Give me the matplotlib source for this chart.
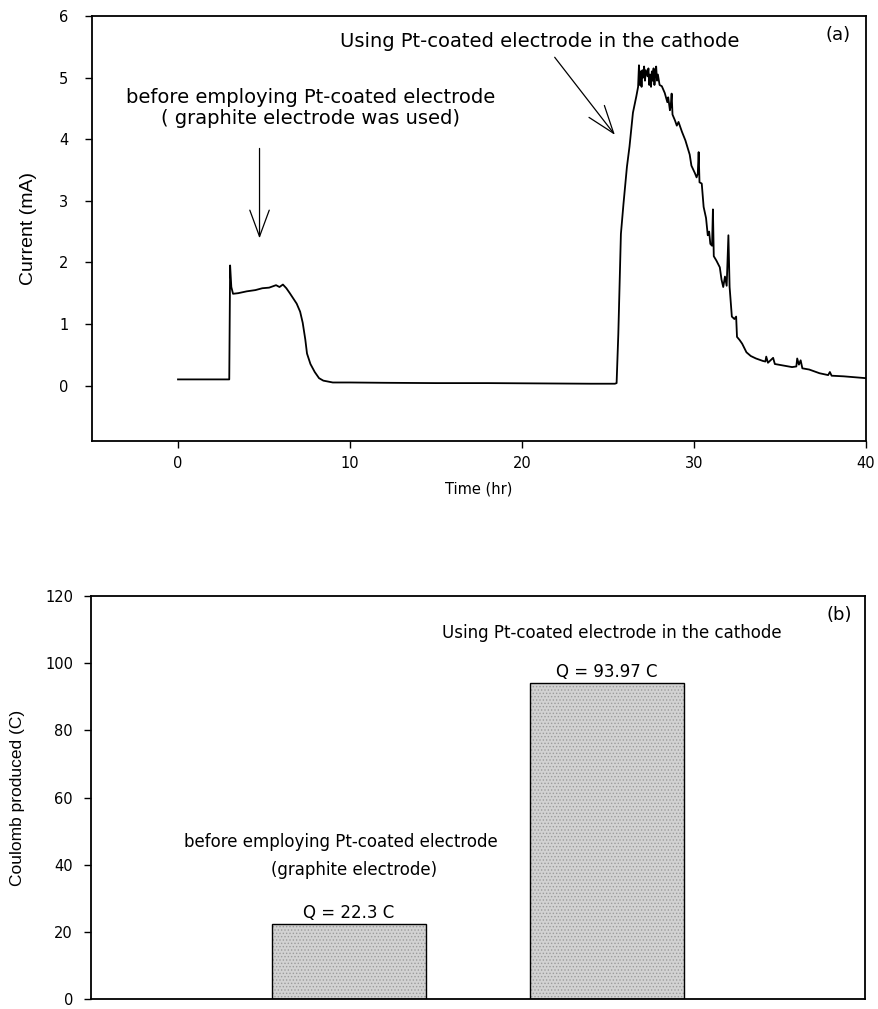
import matplotlib
matplotlib.use("Agg")
import matplotlib.pyplot as plt

# ---------------- data ----------------
# (time in hr, current in mA)
current_trace = [
    (0.0, 0.10), (1.0, 0.10), (2.0, 0.10), (2.98, 0.10), (3.03, 1.95), (3.1, 1.60),
    (3.2, 1.49), (3.5, 1.50), (4.0, 1.53), (4.5, 1.55), (4.9, 1.58), (5.3, 1.59),
    (5.7, 1.63), (5.9, 1.60), (6.1, 1.64), (6.3, 1.58), (6.5, 1.50), (6.9, 1.33),
    (7.1, 1.20), (7.25, 1.02), (7.4, 0.75), (7.5, 0.52), (7.7, 0.35), (7.95, 0.22),
    (8.2, 0.12), (8.45, 0.08), (9.0, 0.05), (10.0, 0.05), (12.0, 0.045), (15.0, 0.04),
    (18.0, 0.04), (21.0, 0.035), (24.0, 0.03), (25.4, 0.03), (25.5, 0.04), (25.6, 0.84),
    (25.75, 2.46), (25.9, 2.95), (26.1, 3.55), (26.25, 3.88), (26.45, 4.43), (26.65, 4.70),
    (26.75, 4.85), (26.8, 5.20), (26.85, 4.88), (26.9, 5.10), (26.95, 4.85), (27.0, 5.12),
    (27.05, 5.00), (27.1, 5.18), (27.15, 4.95), (27.2, 5.12), (27.3, 5.02), (27.35, 5.15),
    (27.4, 4.88), (27.45, 5.05), (27.5, 4.85), (27.55, 5.10), (27.6, 4.95), (27.65, 5.15),
    (27.7, 4.88), (27.75, 5.05), (27.8, 5.18), (27.85, 4.95), (27.9, 5.05), (28.0, 4.88),
    (28.13, 4.86), (28.3, 4.75), (28.45, 4.60), (28.5, 4.68), (28.6, 4.47), (28.65, 4.55),
    (28.7, 4.74), (28.75, 4.40), (28.9, 4.30), (29.0, 4.22), (29.1, 4.28), (29.3, 4.12),
    (29.4, 4.05), (29.5, 3.98), (29.7, 3.80), (29.75, 3.75), (29.85, 3.57), (30.05, 3.45),
    (30.15, 3.38), (30.22, 3.44), (30.27, 3.79), (30.32, 3.30), (30.45, 3.28), (30.56, 2.90),
    (30.7, 2.72), (30.8, 2.44), (30.88, 2.50), (30.95, 2.30), (31.05, 2.27), (31.1, 2.86),
    (31.15, 2.10), (31.3, 2.03), (31.5, 1.92), (31.6, 1.72), (31.7, 1.60), (31.8, 1.77),
    (31.9, 1.62), (32.0, 2.44), (32.07, 1.60), (32.2, 1.12), (32.35, 1.08), (32.45, 1.12),
    (32.5, 0.79), (32.65, 0.74), (32.8, 0.68), (33.05, 0.54), (33.3, 0.48), (33.6, 0.44),
    (34.0, 0.40), (34.15, 0.39), (34.2, 0.47), (34.3, 0.37), (34.6, 0.45), (34.7, 0.35),
    (35.1, 0.33), (35.7, 0.30), (35.95, 0.31), (36.0, 0.44), (36.1, 0.34), (36.2, 0.41),
    (36.3, 0.28), (36.7, 0.26), (37.3, 0.20), (37.8, 0.17), (37.9, 0.22), (38.0, 0.16),
    (38.7, 0.15), (40.0, 0.12),
]
time_hr = [p[0] for p in current_trace]
current_mA = [p[1] for p in current_trace]

bar_positions = [1, 2]
coulomb_C = [22.3, 93.97]
q_texts = ["Q = 22.3 C", "Q = 93.97 C"]

a_yticks = [0, 1, 2, 3, 4, 5, 6]
a_xticks = [0, 10, 20, 30, 40]
b_yticks = [0, 20, 40, 60, 80, 100, 120]

# ---------------- figure ----------------
plt.rcParams['font.family'] = ['DejaVu Sans']
plt.rcParams['hatch.linewidth'] = 0.6
W, H = 879, 1009
fig = plt.figure(figsize=(W / 100, H / 100), dpi=100)

def frac(l, t, r, b):
    return [l / W, 1 - b / H, (r - l) / W, (b - t) / H]

tick_kw = dict(direction='out', length=5, width=1.0, labelsize=10.5, pad=6)

# ---- panel (a) ----
ax1 = fig.add_axes(frac(92, 16, 866, 441))
ax1.plot(time_hr, current_mA, color='black', lw=1.3)
ax1.set_xlim(-5, 40)
ax1.set_ylim(-0.9, 6)
ax1.set_xticks(a_xticks)
ax1.set_yticks(a_yticks)
ax1.tick_params(axis='both', **tick_kw)
ax1.tick_params(axis='y', pad=12)
for s in ax1.spines.values():
    s.set_linewidth(1.3)
ax1.set_ylabel("Current (mA)", family='Liberation Sans', fontsize=14, labelpad=16)
ax1.set_xlabel("Time (hr)", fontsize=10.5, labelpad=7)

ax1.text(21.0, 5.58, "Using Pt-coated electrode in the cathode", ha='center', va='center',
         fontsize=14)
ax1.text(38.4, 5.69, "(a)", ha='center', va='center', fontsize=13)
ax1.text(7.7, 4.67, "before employing Pt-coated electrode", ha='center', va='center',
         fontsize=14)
ax1.text(7.7, 4.34, "( graphite electrode was used)", ha='center', va='center',
         fontsize=14)
ax1.annotate("", xy=(4.74, 2.39), xytext=(4.74, 3.85),
             arrowprops=dict(arrowstyle='->,head_length=1.9,head_width=0.7',
                             mutation_scale=10, lw=0.9, color='black',
                             shrinkA=0, shrinkB=0))
ax1.annotate("", xy=(25.4, 4.07), xytext=(21.9, 5.33),
             arrowprops=dict(arrowstyle='->,head_length=2.0,head_width=0.7',
                             mutation_scale=10, lw=0.9, color='black',
                             shrinkA=0, shrinkB=0))

# ---- panel (b) ----
ax2 = fig.add_axes(frac(91, 596, 865, 999))
ax2.bar(bar_positions, coulomb_C, width=0.6, color='#d2d2d2', edgecolor='#9c9c9c',
        lw=0, hatch='.....')
ax2.bar(bar_positions, coulomb_C, width=0.6, fill=False, edgecolor='black', lw=1.0)
ax2.set_xlim(0, 3)
ax2.set_ylim(0, 120)
ax2.set_yticks(b_yticks)
ax2.set_xticks([])
ax2.tick_params(axis='y', **tick_kw)
ax2.tick_params(axis='y', pad=8)
for s in ax2.spines.values():
    s.set_linewidth(1.3)
ax2.set_ylabel("Coulomb produced (C)", family='Liberation Sans', fontsize=12.5, labelpad=14)

ax2.text(0.97, 46.8, "before employing Pt-coated electrode", ha='center', va='center',
         fontsize=12)
ax2.text(1.02, 38.5, "(graphite electrode)", ha='center', va='center', fontsize=12)
ax2.text(2.02, 109.0, "Using Pt-coated electrode in the cathode", ha='center', va='center',
         fontsize=12)
for x, v, t in zip(bar_positions, coulomb_C, q_texts):
    ax2.text(x, v + 3.3, t, ha='center', va='center', fontsize=12)
ax2.text(2.9, 114.4, "(b)", ha='center', va='center', fontsize=13)

fig.savefig("out.png", dpi=100)
